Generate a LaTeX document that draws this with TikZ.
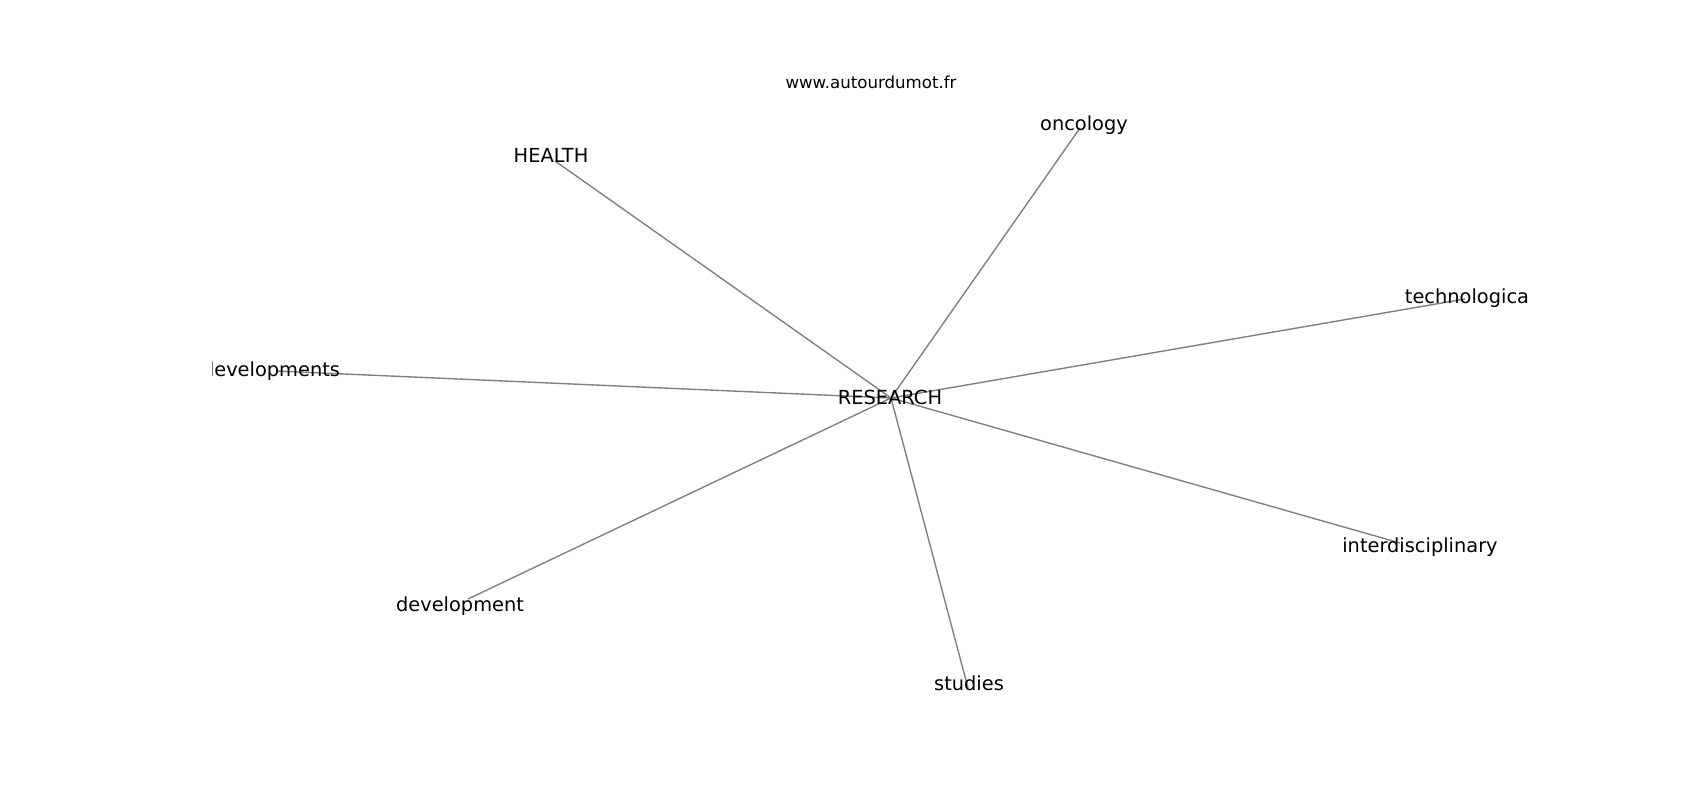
\documentclass[tikz,border=0pt]{standalone}
\usepackage{fontspec}
\setmainfont{DejaVu Sans}
\usepackage{tikz}
\usetikzlibrary{calc}
\tikzset{
	word/.style={inner sep=0pt, font=\fontsize{14}{16}\selectfont, text height=10.64pt, text depth=3.36pt},
	link/.style={line width=1pt, color=black!50}
}

\begin{document}
\begin{tikzpicture}[x=0.01in, y=-0.01in]
			%%%%% START %%%%%
			
			\useasboundingbox (0, 0) rectangle (1700, 800);
			
			\node[anchor=base, inner sep=0pt, font=\fontsize{12}{14}\selectfont] (site) at (871, 89) {www.autourdumot.fr};
			
			\coordinate (hub) at (891, 398);
			\coordinate (health-end) at (555, 161);
			\coordinate (oncology-end) at (1080, 128);
			\coordinate (technologica-end) at (1465, 299);
			\coordinate (developments-end) at (276, 371);
			\coordinate (development-end) at (468, 599);
			\coordinate (studies-end) at (968, 688);
			\coordinate (interdisciplinary-end) at (1400, 543);
			
			\draw[link] (hub) -- (health-end);
			\draw[link] (hub) -- (oncology-end);
			\draw[link] (hub) -- (technologica-end);
			\draw[link] (hub) -- (developments-end);
			\draw[link] (hub) -- (development-end);
			\draw[link] (hub) -- (studies-end);
			\draw[link] (hub) -- (interdisciplinary-end);
			
			\node[word] (research) at (890, 399) {RESEARCH};
			\node[word] (health) at (551, 157) {HEALTH};
			\node[word] (oncology) at (1084, 125) {oncology};
			\node[word] (development) at (460, 606) {development};
			\node[word] (studies) at (969, 685) {studies};
			\node[word] (interdisciplinary) at (1420, 547) {interdisciplinary};
			
			\begin{scope}
				\clip (212.5, 96) rectangle (1530, 712);
				\node[word] (developments) at (271, 371) {developments};
				\node[word] (technologica) at (1467, 298) {technologica};
			\end{scope}
			
			%%%%% END %%%%%
\end{tikzpicture}
\end{document}
